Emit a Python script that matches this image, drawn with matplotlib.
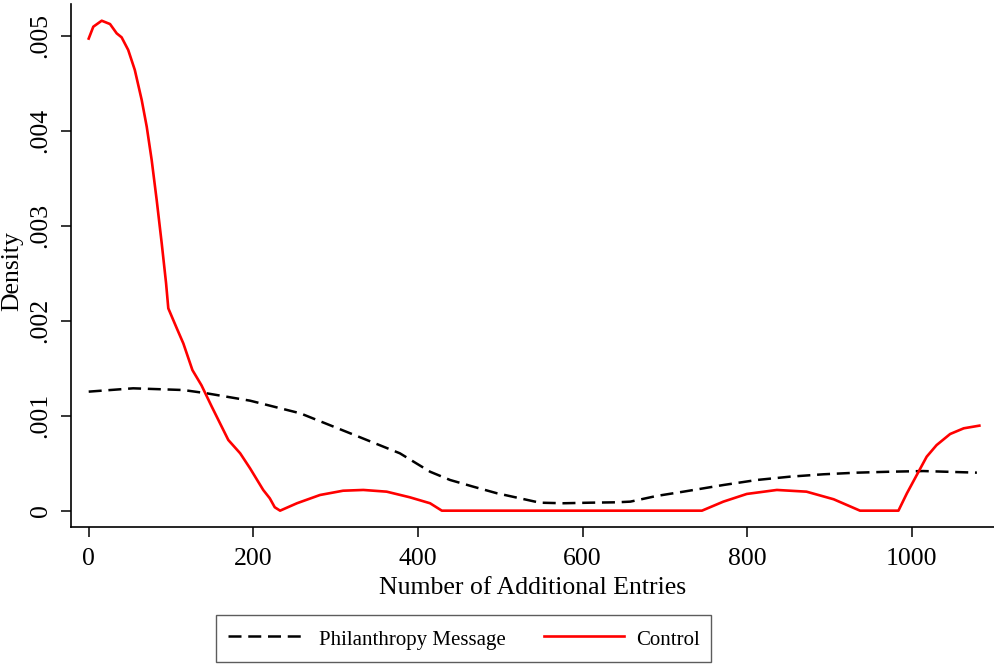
import matplotlib
matplotlib.use('Agg')
import matplotlib.pyplot as plt

plt.rcParams['font.family'] = ['Liberation Serif', 'DejaVu Serif']

# Control (kernel density)
ctrl_x = [0, 5.6, 15.8, 25.9, 34, 40, 48, 56, 64.4, 70.5, 76.5, 82.6, 88.7, 94,
          96.7, 107, 115, 126, 137, 149.5, 169.6, 184, 196, 212, 220, 226, 232.5,
          253, 281, 309, 333.6, 362, 390, 414.7, 429,
          745, 771, 799.5, 836, 872, 905, 937, 983.7,
          994, 1006, 1018, 1030, 1046.5, 1063, 1082]
ctrl_y = [0.00497, 0.005095, 0.005158, 0.005123, 0.005025, 0.004983, 0.00485,
          0.00464, 0.004323, 0.004042, 0.003692, 0.00327, 0.002815, 0.002394,
          0.00213, 0.00192, 0.00176, 0.00148, 0.00132, 0.001095, 0.000744,
          0.000604, 0.000446, 0.000218, 0.00013, 0.000036, 0.0,
          0.000078, 0.000165, 0.00021, 0.000218, 0.0002, 0.000141, 0.000078, 0.0,
          0.0, 0.000095, 0.000176, 0.000218, 0.0002, 0.00012, 0.0, 0.0,
          0.000183, 0.000376, 0.000568, 0.00069, 0.000807, 0.000867, 0.000895]

# Philanthropy Message
phil_x = [0, 54, 115, 143, 196, 257, 317.5, 378, 414.7, 439, 467, 496,
          524, 548, 576.7, 609, 641.5, 658, 690, 722.5, 771, 811.7, 852, 892.6,
          933, 973.6, 1014, 1079]
phil_y = [0.001253, 0.001288, 0.00127, 0.001236, 0.001158, 0.001025, 0.000815,
          0.000604, 0.00041, 0.000323, 0.000253, 0.000183, 0.00013,
          0.000084, 0.000078, 0.000084, 0.000088, 0.000095, 0.000155, 0.0002,
          0.00027, 0.000323, 0.000358, 0.000383, 0.0004, 0.00041, 0.000417,
          0.0004]

xticks = [0, 200, 400, 600, 800, 1000]
yticks = [0, 0.001, 0.002, 0.003, 0.004, 0.005]
ytick_labels = ['0', '.001', '.002', '.003', '.004', '.005']

fig = plt.figure(figsize=(9.95, 6.65), dpi=100)
ax = fig.add_axes([71/995, 1 - 527/665, 924/995, 523/665])

ax.plot(phil_x, phil_y, color='black', lw=1.8, linestyle=(0, (5.2, 2.7)),
        label='Philanthropy Message')
ax.plot(ctrl_x, ctrl_y, color='#ff0000', lw=1.9, label='Control')

ax.set_xlim(-21.5, 1101)
ax.set_ylim(-0.000172, 0.005334)
ax.set_xticks(xticks)
ax.set_xticklabels([str(t) for t in xticks])
ax.set_yticks(yticks)
ax.set_yticklabels(ytick_labels, rotation=90, va='center')

for s in ['top', 'right']:
    ax.spines[s].set_visible(False)
for s in ['left', 'bottom']:
    ax.spines[s].set_linewidth(1.2)
ax.tick_params(axis='both', direction='out', length=7, width=1.1,
               labelsize=18.5)
ax.tick_params(axis='x', pad=8)
ax.tick_params(axis='y', pad=7)

ax.set_xlabel('Number of Additional Entries', fontsize=18.5, labelpad=5)
ax.set_ylabel('Density', fontsize=18.5)
ax.yaxis.set_label_coords(-0.052, 0.49)

leg = fig.legend(loc='center', bbox_to_anchor=(463.5/995, 1 - 638.5/665),
                 ncol=2, fontsize=15, frameon=True, fancybox=False,
                 handlelength=3.8, handletextpad=0.58, columnspacing=1.87,
                 borderpad=0.55, handleheight=1.4)
leg.get_frame().set_edgecolor('#333333')
leg.get_frame().set_linewidth(1.0)

fig.savefig('out.png', dpi=100, facecolor='white')
plt.close()
